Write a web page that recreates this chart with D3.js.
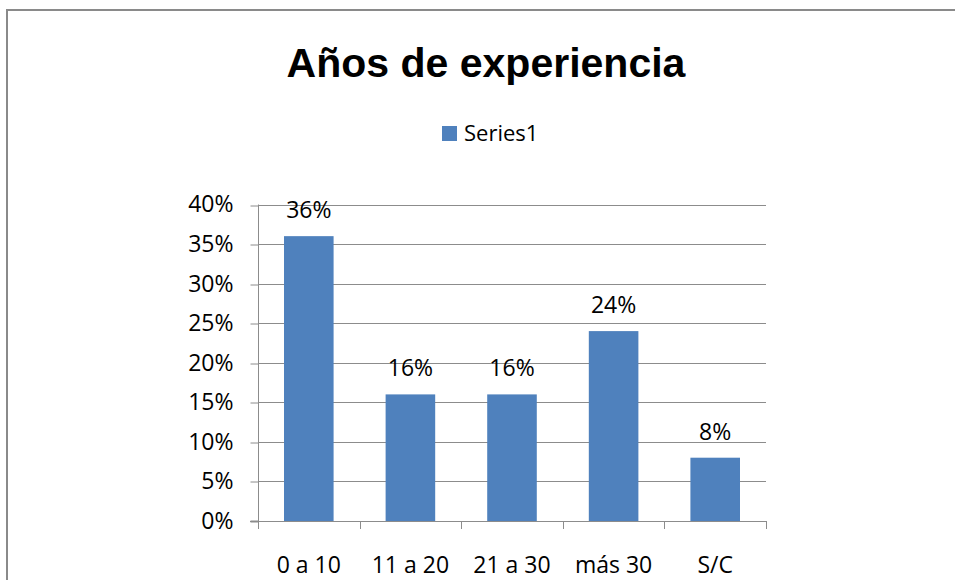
<!DOCTYPE html>
<html>
<head>
<meta charset="utf-8">
<script src="https://cdn.jsdelivr.net/npm/d3@7"></script>
<style>
  html, body { margin: 0; padding: 0; background: #fff; overflow: hidden; }
  svg { display: block; }
</style>
</head>
<body>
<svg id="chart" width="955" height="580"></svg>
<script>
const title = "Años de experiencia";
const seriesName = "Series1";
const categories = ["0 a 10", "11 a 20", "21 a 30", "más 30", "S/C"];
const values = [0.36, 0.16, 0.16, 0.24, 0.08];
const yTicks = [0, 0.05, 0.10, 0.15, 0.20, 0.25, 0.30, 0.35, 0.40];

const svg = d3.select("#chart");
const labelFont = "'Open Sans', 'Noto Sans', sans-serif";
const barColor = "#4F81BD";
const gridColor = "#8C8C8C";

// Outer chart border (extends past viewport at right/bottom)
svg.append("rect")
  .attr("x", 7).attr("y", 10)
  .attr("width", 1000).attr("height", 700)
  .attr("fill", "none").attr("stroke", "#8A8A8A").attr("stroke-width", 2);

// Title
svg.append("text")
  .attr("x", 486).attr("y", 77)
  .attr("text-anchor", "middle")
  .attr("font-family", "'Liberation Sans', Arial, sans-serif")
  .attr("font-weight", "bold")
  .attr("font-size", 41)
  .attr("fill", "#000")
  .text(title);

// Legend
const legend = svg.append("g");
legend.append("rect")
  .attr("x", 442).attr("y", 126).attr("width", 15).attr("height", 15)
  .attr("fill", barColor);
legend.append("text")
  .attr("x", 464).attr("y", 141)
  .attr("font-family", labelFont).attr("font-size", 22)
  .attr("fill", "#000")
  .text(seriesName);

// Scales
const x = d3.scaleBand().domain(categories).range([258, 766])
  .paddingInner(0.512).paddingOuter(0.256);
const y = d3.scaleLinear().domain([0, 0.40]).range([521, 204.5]);

// Gridlines
svg.append("g").selectAll("line").data(yTicks.slice(1)).join("line")
  .attr("x1", 258).attr("x2", 766)
  .attr("y1", d => Math.round(y(d)) + 0.5).attr("y2", d => Math.round(y(d)) + 0.5)
  .attr("stroke", gridColor).attr("stroke-width", 1);

// Y axis
const yAxis = d3.axisLeft(y).tickValues(yTicks)
  .tickFormat(d3.format(".0%")).tickSize(8).tickPadding(17);
const gy = svg.append("g").attr("transform", "translate(258.5,0)").call(yAxis);
gy.selectAll("path").attr("stroke", gridColor).attr("d", `M-8,${y(0)}H0V${y(0.40)}`);
gy.selectAll(".tick line").attr("stroke", gridColor)
  .attr("transform", d => `translate(0,${Math.round(y(d)) + 0.5 - y(d)})`);
gy.selectAll(".tick text")
  .attr("font-family", labelFont).attr("font-size", 23).attr("fill", "#000");

// X axis baseline and category boundary ticks
const boundaries = categories.map((c, i) => 258 + i * x.step());
boundaries.push(766);
svg.append("line")
  .attr("x1", 250).attr("x2", 766).attr("y1", 521.5).attr("y2", 521.5)
  .attr("stroke", gridColor);
svg.append("g").selectAll("line").data(boundaries).join("line")
  .attr("x1", d => Math.round(d) + 0.5).attr("x2", d => Math.round(d) + 0.5)
  .attr("y1", 521).attr("y2", 529)
  .attr("stroke", gridColor);

// Category labels
svg.append("g").selectAll("text").data(categories).join("text")
  .attr("x", d => x(d) + x.bandwidth() / 2)
  .attr("y", 573)
  .attr("text-anchor", "middle")
  .attr("font-family", labelFont).attr("font-size", 23).attr("fill", "#000")
  .text(d => d);

// Bars
const data = categories.map((c, i) => ({ c, v: values[i] }));
svg.append("g").selectAll("rect").data(data).join("rect")
  .attr("x", d => x(d.c))
  .attr("y", d => y(d.v))
  .attr("width", x.bandwidth())
  .attr("height", d => y(0) - y(d.v))
  .attr("fill", barColor);

// Data labels
svg.append("g").selectAll("text").data(data).join("text")
  .attr("x", d => x(d.c) + x.bandwidth() / 2)
  .attr("y", d => y(d.v) - 18)
  .attr("text-anchor", "middle")
  .attr("font-family", labelFont).attr("font-size", 23).attr("fill", "#000")
  .text(d => d3.format(".0%")(d.v));
</script>
</body>
</html>
